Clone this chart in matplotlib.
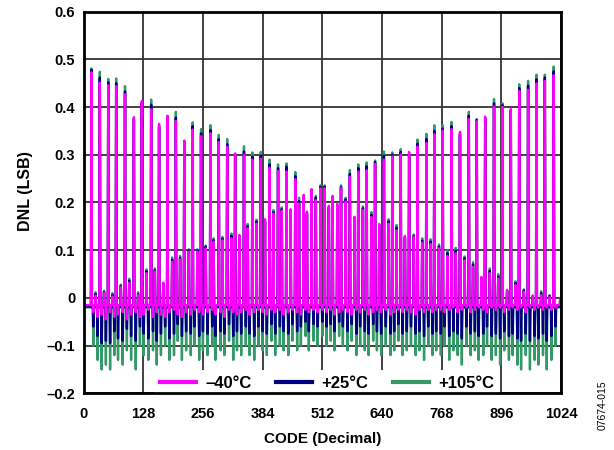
import numpy as np
import matplotlib.pyplot as plt

plt.rcParams['font.family'] = ['Liberation Sans', 'DejaVu Sans']
plt.rcParams['font.weight'] = 'bold'

# codes where the DNL spikes sit
spike_codes = [17, 26, 35, 44, 53, 62, 70, 80, 89, 98, 108, 117, 125, 135, 145, 153, 162, 171, 180, 190,
               198, 207, 216, 226, 234, 244, 252, 262, 272, 279, 290, 298, 308, 317, 325, 334, 344, 352, 362, 371,
               380, 389, 399, 407, 417, 425, 435, 444, 454, 462, 472, 479, 489, 498, 508, 517, 526, 534, 544, 552,
               562, 571, 581, 589, 599, 607, 617, 625, 634, 644, 654, 662, 671, 680, 689, 698, 708, 716, 726, 735,
               744, 752, 762, 770, 780, 789, 798, 807, 817, 826, 835, 843, 853, 861, 871, 880, 889, 898, 908, 916,
               926, 934, 944, 953, 963, 971, 981, 989, 999, 1008]

peaks_m40 = [0.473, 0.005, 0.451, 0.010, 0.446, 0.003, 0.444, 0.023, 0.427, 0.032, 0.379, 0.006, 0.413, 0.052,
             0.395, 0.055, 0.365, 0.032, 0.382, 0.076, 0.371, 0.081, 0.330, 0.097, 0.353, 0.097, 0.339, 0.104,
             0.345, 0.118, 0.327, 0.121, 0.317, 0.125, 0.303, 0.132, 0.300, 0.146, 0.290, 0.156, 0.292, 0.165,
             0.273, 0.177, 0.266, 0.183, 0.265, 0.186, 0.249, 0.198, 0.216, 0.181, 0.228, 0.205, 0.230, 0.230,
             0.193, 0.214, 0.197, 0.230, 0.202, 0.254, 0.170, 0.265, 0.184, 0.268, 0.170, 0.281, 0.155, 0.290,
             0.156, 0.297, 0.142, 0.301, 0.130, 0.306, 0.128, 0.317, 0.116, 0.325, 0.113, 0.343, 0.104, 0.351,
             0.088, 0.354, 0.093, 0.348, 0.079, 0.375, 0.065, 0.371, 0.044, 0.380, 0.052, 0.401, 0.041, 0.401,
             0.017, 0.396, 0.027, 0.434, 0.013, 0.436, 0.005, 0.450, 0.006, 0.455, 0.002, 0.467]
peaks_p25 = [0.478, 0.008, 0.462, 0.012, 0.452, 0.006, 0.450, 0.025, 0.433, 0.036, 0.375, 0.008, 0.408, 0.056,
             0.405, 0.058, 0.360, 0.030, 0.378, 0.080, 0.378, 0.084, 0.326, 0.100, 0.360, 0.100, 0.345, 0.107,
             0.352, 0.121, 0.333, 0.124, 0.322, 0.130, 0.300, 0.130, 0.307, 0.150, 0.296, 0.160, 0.298, 0.162,
             0.280, 0.180, 0.272, 0.186, 0.275, 0.184, 0.255, 0.203, 0.212, 0.178, 0.225, 0.210, 0.233, 0.233,
             0.190, 0.211, 0.194, 0.232, 0.206, 0.260, 0.168, 0.272, 0.188, 0.276, 0.174, 0.285, 0.152, 0.298,
             0.160, 0.300, 0.147, 0.306, 0.128, 0.302, 0.130, 0.323, 0.120, 0.333, 0.118, 0.350, 0.108, 0.355,
             0.094, 0.360, 0.099, 0.344, 0.083, 0.382, 0.070, 0.373, 0.042, 0.376, 0.057, 0.408, 0.045, 0.404,
             0.015, 0.392, 0.031, 0.440, 0.016, 0.445, 0.004, 0.458, 0.010, 0.462, 0.004, 0.475]
peaks_p105 = [0.481, 0.012, 0.474, 0.015, 0.459, 0.010, 0.460, 0.028, 0.444, 0.040, 0.372, 0.012, 0.405, 0.060,
              0.416, 0.062, 0.356, 0.028, 0.375, 0.085, 0.390, 0.088, 0.322, 0.102, 0.368, 0.102, 0.354, 0.110,
              0.362, 0.125, 0.342, 0.128, 0.333, 0.135, 0.298, 0.128, 0.318, 0.155, 0.305, 0.164, 0.306, 0.160,
              0.290, 0.184, 0.280, 0.190, 0.282, 0.182, 0.264, 0.210, 0.208, 0.176, 0.222, 0.214, 0.236, 0.236,
              0.188, 0.208, 0.192, 0.236, 0.210, 0.268, 0.166, 0.280, 0.192, 0.284, 0.180, 0.288, 0.150, 0.307,
              0.165, 0.305, 0.153, 0.312, 0.126, 0.300, 0.133, 0.332, 0.125, 0.344, 0.123, 0.362, 0.112, 0.362,
              0.100, 0.369, 0.105, 0.340, 0.087, 0.390, 0.075, 0.375, 0.040, 0.372, 0.062, 0.417, 0.050, 0.408,
              0.013, 0.388, 0.035, 0.448, 0.018, 0.455, 0.003, 0.468, 0.014, 0.468, 0.006, 0.485]

# negative excursions just after each spike
dips_m40 = [-0.03, -0.04, -0.035, -0.045, -0.03, -0.04, -0.035, -0.03, -0.045, -0.035, -0.03, -0.04, -0.035, -0.025,
            -0.04, -0.03, -0.035, -0.04, -0.03, -0.025, -0.035, -0.04, -0.03, -0.035, -0.025, -0.03, -0.035,
            -0.03, -0.025, -0.035, -0.03, -0.04, -0.025, -0.03, -0.035, -0.03, -0.025, -0.035, -0.03, -0.025, -0.03,
            -0.035, -0.025, -0.03, -0.025, -0.035, -0.03, -0.025, -0.03, -0.035, -0.025, -0.03, -0.025, -0.03,
            -0.025, -0.03, -0.025, -0.035, -0.03, -0.025, -0.03, -0.035, -0.025, -0.03, -0.025, -0.035, -0.03, -0.025,
            -0.03, -0.025, -0.035, -0.03, -0.025, -0.03, -0.025, -0.03, -0.035, -0.025, -0.03, -0.025, -0.03, -0.025,
            -0.025, -0.03, -0.025, -0.02, -0.03, -0.025, -0.02, -0.03, -0.025, -0.02, -0.025, -0.03, -0.02, -0.025,
            -0.02, -0.03, -0.025, -0.02, -0.025, -0.02, -0.03, -0.02, -0.025, -0.02, -0.025, -0.02, -0.025, -0.02]
dips_p25 = [-0.06, -0.08, -0.095, -0.09, -0.095, -0.07, -0.085, -0.09, -0.065, -0.08, -0.09, -0.06, -0.075, -0.085,
            -0.07, -0.09, -0.075, -0.06, -0.085, -0.075, -0.055, -0.08, -0.07, -0.075, -0.06, -0.08, -0.07,
            -0.075, -0.06, -0.08, -0.07, -0.075, -0.055, -0.08, -0.07, -0.075, -0.06, -0.075, -0.08, -0.06, -0.07,
            -0.075, -0.055, -0.075, -0.06, -0.07, -0.075, -0.055, -0.07, -0.06, -0.05, -0.07, -0.055, -0.06,
            -0.05, -0.06, -0.055, -0.07, -0.05, -0.06, -0.07, -0.055, -0.075, -0.06, -0.07, -0.075, -0.055, -0.07,
            -0.075, -0.06, -0.075, -0.07, -0.055, -0.075, -0.07, -0.06, -0.075, -0.07, -0.08, -0.06, -0.075, -0.07,
            -0.075, -0.06, -0.08, -0.07, -0.075, -0.085, -0.06, -0.075, -0.07, -0.08, -0.075, -0.06, -0.08, -0.075,
            -0.085, -0.07, -0.08, -0.075, -0.085, -0.09, -0.075, -0.09, -0.08, -0.085, -0.075, -0.09, -0.08, -0.06]
dips_p105 = [-0.10, -0.13, -0.15, -0.14, -0.15, -0.12, -0.13, -0.14, -0.11, -0.13, -0.15, -0.10, -0.12, -0.13,
             -0.11, -0.14, -0.12, -0.10, -0.13, -0.12, -0.09, -0.13, -0.11, -0.12, -0.10, -0.13, -0.11,
             -0.12, -0.10, -0.13, -0.11, -0.12, -0.09, -0.13, -0.11, -0.12, -0.10, -0.12, -0.13, -0.10, -0.11,
             -0.12, -0.09, -0.12, -0.10, -0.11, -0.12, -0.09, -0.11, -0.10, -0.08, -0.11, -0.09, -0.10,
             -0.08, -0.10, -0.09, -0.11, -0.08, -0.10, -0.11, -0.09, -0.12, -0.10, -0.11, -0.12, -0.09, -0.11,
             -0.12, -0.10, -0.12, -0.11, -0.09, -0.12, -0.11, -0.10, -0.12, -0.11, -0.13, -0.10, -0.12, -0.11,
             -0.12, -0.10, -0.13, -0.11, -0.12, -0.14, -0.10, -0.12, -0.11, -0.13, -0.12, -0.10, -0.13, -0.12,
             -0.14, -0.11, -0.13, -0.12, -0.14, -0.15, -0.12, -0.15, -0.13, -0.14, -0.12, -0.15, -0.13, -0.10]

# level between spikes
base_m40, base_p25, base_p105 = -0.015, -0.018, -0.02

labels = ['\u201340\u00b0C', '+25\u00b0C', '+105\u00b0C']
colors = ['#ff00ff', '#000080', '#339966']

x_ticks = [0, 128, 256, 384, 512, 640, 768, 896, 1024]
y_ticks = [-0.2, -0.1, 0, 0.1, 0.2, 0.3, 0.4, 0.5, 0.6]
y_ticklabels = ['\u20130.2', '\u20130.1', '0', '0.1', '0.2', '0.3', '0.4', '0.5', '0.6']


def build(peaks, dips, base):
    y = np.full(1024, base)
    sc = np.array(spike_codes)
    y[sc] = peaks
    y[sc + 4] = dips
    y[0] = 0
    y[-2:] = 0
    return y


code = np.arange(1024)
series = [build(peaks_m40, dips_m40, base_m40),
          build(peaks_p25, dips_p25, base_p25),
          build(peaks_p105, dips_p105, base_p105)]

fig = plt.figure(figsize=(6.14, 4.5), dpi=100)
ax = fig.add_axes([0.136, 0.126, 0.778, 0.848])

# draw hottest first so the -40C trace sits on top
for i in [2, 1, 0]:
    ax.plot(code, series[i], color=colors[i], lw=1.7, zorder=5 - i)
handles = [plt.Line2D([], [], color=c, lw=3) for c in colors]

ax.set_xlim(0, 1024)
ax.set_ylim(-0.2, 0.6)
ax.set_xticks(x_ticks)
ax.set_yticks(y_ticks)
ax.set_yticklabels(y_ticklabels)
ax.tick_params(axis='y', length=0, labelsize=10.5, pad=6)
ax.tick_params(axis='x', length=0, labelsize=10.5, pad=10)
for t in ax.get_xticklabels() + ax.get_yticklabels():
    t.set_fontweight('bold')
ax.grid(True, color='#333333', lw=1.3, zorder=1)
ax.set_axisbelow(True)
for s in ax.spines.values():
    s.set_linewidth(2)
    s.set_color('black')
    s.set_zorder(20)

ax.set_xlabel('CODE (Decimal)', fontsize=11, fontweight='bold', labelpad=8)
ax.set_ylabel('DNL (LSB)', fontsize=11.5, fontweight='bold')
ax.yaxis.set_label_coords(-0.105, 0.53)

leg = ax.legend(handles, labels, loc='lower center', ncol=3,
                prop={'weight': 'bold', 'size': 12}, handlelength=2.15, handletextpad=0.55,
                columnspacing=1.5, frameon=True, facecolor='white', edgecolor='none', framealpha=1,
                borderaxespad=0.0, borderpad=0.35, bbox_to_anchor=(0.51, -0.008))
leg.set_zorder(10)

fig.text(0.982, 0.1, '07674-015', rotation=90, fontsize=7.5, fontweight='normal',
         ha='center', va='center')

fig.savefig('out.png', dpi=100)
